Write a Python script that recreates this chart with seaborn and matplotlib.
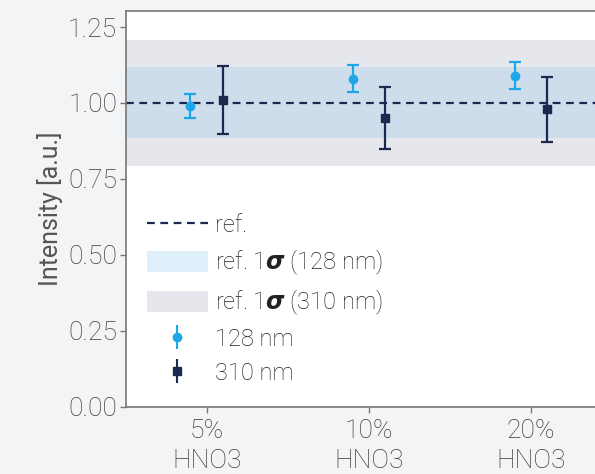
import numpy as np
import matplotlib
matplotlib.use("Agg")
import matplotlib.pyplot as plt
import seaborn as sns
from matplotlib.patches import Patch
from matplotlib.lines import Line2D

# datos
categorias = ["5%\nHNO3", "10%\nHNO3", "20%\nHNO3"]
val_128 = [0.99, 1.08, 1.09]
err_128 = [0.04, 0.045, 0.045]
val_310 = [1.01, 0.95, 0.98]
err_310 = [0.112, 0.103, 0.107]
ref = 1.0
sigma_128 = 0.117
sigma_310 = 0.207

sns.set_theme(style="ticks")
plt.rcParams['font.family'] = ['Roboto', 'DejaVu Sans']
plt.rcParams['font.weight'] = 'light'
plt.rcParams['mathtext.fontset'] = 'dejavusans'

c_light = "#1ea7e8"
c_dark = "#1b2850"
gris_txt = "#3c3c3c"

fig = plt.figure(figsize=(5.95, 4.74), dpi=100, facecolor="#f3f4f6")
ax = fig.add_axes([0.211, 0.142, 0.818, 0.835])
ax.set_facecolor("white")

x = np.arange(len(categorias))

ax.axhspan(ref - sigma_310, ref + sigma_310, color="#e6e7ec", lw=0, zorder=0)
ax.axhspan(ref - sigma_128, ref + sigma_128, color="#9fcbea", alpha=0.35, lw=0, zorder=1)
ax.axhline(ref, color=c_dark, ls="--", lw=1.6, dashes=(3.5, 2.5), zorder=2)

ax.errorbar(x - 0.1, val_128, yerr=err_128, fmt="o", color=c_light, ms=6,
            capsize=4, elinewidth=1.6, capthick=1.6, zorder=4)
ax.errorbar(x + 0.1, val_310, yerr=err_310, fmt="s", color=c_dark, ms=6,
            capsize=4, elinewidth=1.6, capthick=1.6, zorder=4)

ax.set_xlim(-0.5, 2.5)
ax.set_ylim(0, 1.303)
ax.set_xticks(x)
ax.set_xticklabels(categorias, linespacing=1.3)
ax.set_yticks([0, 0.25, 0.5, 0.75, 1.0, 1.25])
ax.set_yticklabels(["0.00", "0.25", "0.50", "0.75", "1.00", "1.25"])
ax.set_ylabel("Intensity [a.u.]", fontsize=18, color="#555555", labelpad=4)
ax.tick_params(labelsize=19, colors=gris_txt, length=4, width=1, pad=2)
ax.tick_params(axis="x", pad=5)
ax.tick_params(axis="both", color="#777777")
for s in ax.spines.values():
    s.set_color("#777777")
    s.set_linewidth(1.2)

handles = [
    Line2D([], [], color=c_dark, ls="--", lw=1.6, dashes=(3.5, 2.5)),
    Patch(facecolor="#dff0fa", edgecolor="none"),
    Patch(facecolor="#e6e7ec", edgecolor="none"),
    ax.errorbar([], [], yerr=[], fmt="o", color=c_light, ms=6, capsize=4),
    ax.errorbar([], [], yerr=[], fmt="s", color=c_dark, ms=6, capsize=4),
]
labels = ["ref.", r"ref. 1$\boldsymbol{\sigma}$ (128 nm)", r"ref. 1$\boldsymbol{\sigma}$ (310 nm)",
          "128 nm", "310 nm"]
leg = ax.legend(handles, labels, loc="lower left", frameon=False, fontsize=17,
                handlelength=2.6, handletextpad=0.3, labelspacing=0.45,
                handleheight=1.0, bbox_to_anchor=(0.0, 0.0))
for t in leg.get_texts():
    t.set_color("#222222")

fig.savefig("out.png", dpi=100, facecolor=fig.get_facecolor())
